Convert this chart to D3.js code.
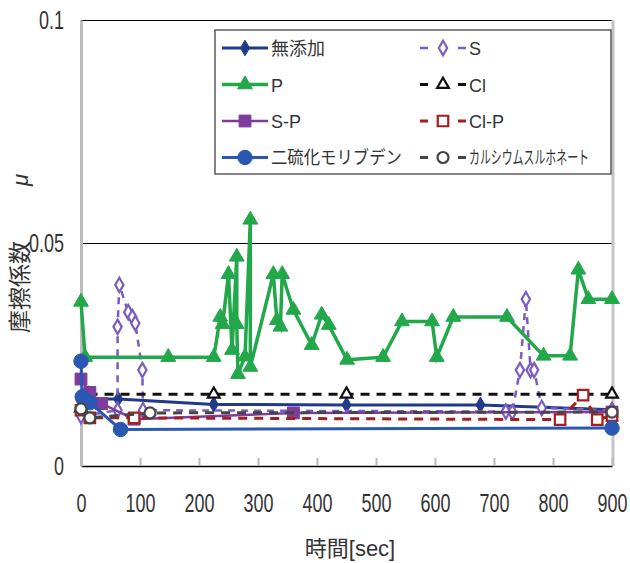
<!DOCTYPE html>
<html>
<head>
<meta charset="utf-8">
<script src="https://d3js.org/d3.v7.min.js"></script>
<style>
  body { margin: 0; background: #fff; }
  text { font-family: "Liberation Sans", "Noto Sans CJK JP", sans-serif; fill: #333; }
</style>
</head>
<body>
<div class="chart"></div>
<script>
// Data
// ==============================
var seriesNames = ["無添加", "S", "P", "Cl", "S-P", "Cl-P", "二硫化モリブデン", "カルシウムスルホネート"];

var mutenkaTime = [0, 15, 63, 225, 450, 677, 900];
var mutenkaMu = [0.0145, 0.0150, 0.0150, 0.0138, 0.0137, 0.0137, 0.0126];

var sTime = [0, 62, 62, 65, 80, 87, 92, 104, 105, 720, 731, 744, 754, 762, 768, 781, 900];
var sMu = [0.0112, 0.0125, 0.0312, 0.0406, 0.0345, 0.0334, 0.0320, 0.0215, 0.0125, 0.0122, 0.0121, 0.0215, 0.0374, 0.0215, 0.0215, 0.0130, 0.0125];

var pTime = [0, 7, 148, 225, 236, 240, 250, 256, 264, 264, 266, 278, 287, 287, 326, 332, 338, 341, 360, 391, 408, 420, 451, 512, 544, 595, 603, 631, 722, 784, 829, 843, 860, 900];
var pMu = [0.0368, 0.0244, 0.0244, 0.0244, 0.0334, 0.0318, 0.0430, 0.0260, 0.0469, 0.0318, 0.0206, 0.0245, 0.0552, 0.0222, 0.0430, 0.0327, 0.0312, 0.0430, 0.0350, 0.0271, 0.0339, 0.0316, 0.0238, 0.0244, 0.0324, 0.0324, 0.0244, 0.0334, 0.0334, 0.0247, 0.0247, 0.0440, 0.0374, 0.0374];

var clTime = [0, 12, 225, 450, 900];
var clMu = [0.0130, 0.0161, 0.0161, 0.0161, 0.0161];

var spTime = [0, 15, 35, 90, 360, 900];
var spMu = [0.0195, 0.0165, 0.0140, 0.0105, 0.0119, 0.0121];

var clpTime = [0, 15, 90, 812, 851, 875, 900];
var clpMu = [0.0125, 0.0108, 0.0108, 0.0104, 0.0159, 0.0104, 0.0113];

var mos2Time = [0, 2, 15, 67, 900];
var mos2Mu = [0.0235, 0.0155, 0.0142, 0.0082, 0.0085];

var caTime = [0, 15, 117, 900];
var caMu = [0.0128, 0.0108, 0.0119, 0.0121];

var xTicks = [0, 100, 200, 300, 400, 500, 600, 700, 800, 900];
var yTicks = [0, 0.05, 0.1];

// Series styles (same order as seriesNames)
var styles = [
  {color: "#213a8c", width: 3, dash: null, symbol: d3.symbolDiamond, size: 70, open: false},
  {color: "#7b5cc0", width: 2.5, dash: "7,6", symbol: d3.symbolDiamond, size: 60, open: true},
  {color: "#22a84a", width: 3.5, dash: null, symbol: d3.symbolTriangle, size: 95, open: false},
  {color: "#111111", width: 3, dash: "9,7", symbol: d3.symbolTriangle, size: 60, open: true},
  {color: "#7e3c9c", width: 2.5, dash: null, symbol: d3.symbolSquare, size: 140, open: false},
  {color: "#a51e24", width: 3, dash: "9,7", symbol: d3.symbolSquare, size: 110, open: true},
  {color: "#2a57b2", width: 3, dash: null, symbol: d3.symbolCircle, size: 165, open: false},
  {color: "#454545", width: 3, dash: "9,7", symbol: d3.symbolCircle, size: 95, open: true}
];

var times = [mutenkaTime, sTime, pTime, clTime, spTime, clpTime, mos2Time, caTime];
var mus = [mutenkaMu, sMu, pMu, clMu, spMu, clpMu, mos2Mu, caMu];

var series = seriesNames.map(function (name, i) {
  return {
    name: name,
    style: styles[i],
    points: times[i].map(function (t, j) { return {t: t, mu: mus[i][j]}; })
  };
});

// narrow, tall digits like the original chart font
function narrowWidth(str) {
  var w = 0;
  for (var c of str) w += (c === ".") ? 5 : 10;
  return w;
}

// squeeze a text horizontally to a target width (keeps its anchor point)
function squeeze(sel, target, anchorX) {
  sel.each(function (d) {
    var el = d3.select(this);
    var w = this.getComputedTextLength();
    var k = Math.min(1, (typeof target === "function" ? target(d) : target) / w);
    el.attr("x", anchorX / k).attr("transform", `scale(${k},1)`);
  });
}

// Chart
// ==============================
var svgWidth = 630;
var svgHeight = 563;
var plot = {left: 81, right: 612, top: 20, bottom: 466};

var svg = d3.select(".chart")
  .append("svg")
  .attr("width", svgWidth)
  .attr("height", svgHeight);

var xScale = d3.scaleLinear().domain([0, 900]).range([plot.left, plot.right]);
var yScale = d3.scaleLinear().domain([0, 0.1]).range([plot.bottom, plot.top]);

// gridlines
svg.append("g")
  .selectAll("line")
  .data([0.05, 0.1])
  .enter()
  .append("line")
  .attr("x1", plot.left)
  .attr("x2", plot.right)
  .attr("y1", d => Math.round(yScale(d)) + 0.5)
  .attr("y2", d => Math.round(yScale(d)) + 0.5)
  .attr("stroke", "#000")
  .attr("stroke-width", 1);

// plot right border (gray)
svg.append("line")
  .attr("x1", plot.right + 1).attr("x2", plot.right + 1)
  .attr("y1", plot.top).attr("y2", plot.bottom)
  .attr("stroke", "#c4c4c4").attr("stroke-width", 3);

// x axis with inward ticks
var bottomAxis = d3.axisBottom(xScale)
  .tickValues(xTicks)
  .tickSizeInner(-8)
  .tickSizeOuter(0)
  .tickPadding(28)
  .tickFormat(d3.format("d"));

var xAxis = svg.append("g")
  .attr("transform", `translate(0, ${plot.bottom})`)
  .call(bottomAxis);
xAxis.select(".domain").attr("stroke", "#000").attr("stroke-width", 1.5);
xAxis.selectAll(".tick line").attr("stroke", "#b8b8b8").attr("stroke-width", 2);
xAxis.selectAll("text")
  .attr("font-size", 25)
  .attr("fill", "#333")
  .call(squeeze, d => narrowWidth(String(d)), 0);

// y axis
var leftAxis = d3.axisLeft(yScale)
  .tickValues(yTicks)
  .tickSize(0)
  .tickPadding(17)
  .tickFormat(d => String(d));

var yAxis = svg.append("g")
  .attr("transform", `translate(${plot.left}, 0)`)
  .call(leftAxis);
yAxis.select(".domain").attr("stroke", "#bdbdbd").attr("stroke-width", 3);
yAxis.selectAll("text")
  .attr("font-size", 25)
  .attr("fill", "#333")
  .call(squeeze, d => narrowWidth(String(d)), -17);

// Lines and markers
// ==============================
var lineGen = d3.line()
  .x(d => xScale(d.t))
  .y(d => yScale(d.mu));

series.forEach(function (s) {
  var st = s.style;
  svg.append("path")
    .datum(s.points)
    .attr("d", lineGen)
    .attr("fill", "none")
    .attr("stroke", st.color)
    .attr("stroke-width", st.width)
    .attr("stroke-dasharray", st.dash);

  svg.append("g")
    .selectAll("path")
    .data(s.points)
    .enter()
    .append("path")
    .attr("d", d3.symbol().type(st.symbol).size(st.size))
    .attr("transform", d => `translate(${xScale(d.t)}, ${yScale(d.mu)})`)
    .attr("fill", st.open ? "#fff" : st.color)
    .attr("stroke", st.color)
    .attr("stroke-width", st.open ? 2.2 : 1);
});

// Legend
// ==============================
var legendWidths = {"二硫化モリブデン": 131, "カルシウムスルホネート": 120};

var legend = svg.append("g");
legend.append("rect")
  .attr("x", 215).attr("y", 30)
  .attr("width", 396).attr("height", 144)
  .attr("fill", "#fff")
  .attr("stroke", "#333")
  .attr("stroke-width", 1.2);

series.forEach(function (s, i) {
  var st = s.style;
  var col = i % 2;
  var row = Math.floor(i / 2);
  var x0 = col === 0 ? 222 : 420;
  var cy = 48 + row * 36.5;
  var item = legend.append("g");

  item.append("line")
    .attr("x1", x0).attr("x2", x0 + 46)
    .attr("y1", cy).attr("y2", cy)
    .attr("stroke", st.color)
    .attr("stroke-width", st.width)
    .attr("stroke-dasharray", st.dash ? "8,30" : null);

  item.append("path")
    .attr("d", d3.symbol().type(st.symbol).size(st.size))
    .attr("transform", `translate(${x0 + 23}, ${cy})`)
    .attr("fill", st.open ? "#fff" : st.color)
    .attr("stroke", st.color)
    .attr("stroke-width", st.open ? 2.2 : 1);

  var label = item.append("text")
    .attr("x", x0 + 49)
    .attr("y", cy + 7)
    .attr("font-size", 18)
    .text(s.name);
  if (legendWidths[s.name]) {
    label.call(squeeze, legendWidths[s.name], x0 + 49);
  }
});

// Axis titles
// ==============================
svg.append("text")
  .attr("transform", `translate(28, 287) rotate(-90)`)
  .attr("text-anchor", "middle")
  .attr("font-size", 23)
  .text("摩擦係数");

svg.append("text")
  .attr("transform", `translate(28, 180) rotate(-90)`)
  .attr("text-anchor", "middle")
  .attr("font-size", 22)
  .attr("font-style", "italic")
  .text("μ");

svg.append("text")
  .attr("x", 350)
  .attr("y", 556)
  .attr("text-anchor", "middle")
  .attr("font-size", 22)
  .text("時間[sec]");
</script>
</body>
</html>
